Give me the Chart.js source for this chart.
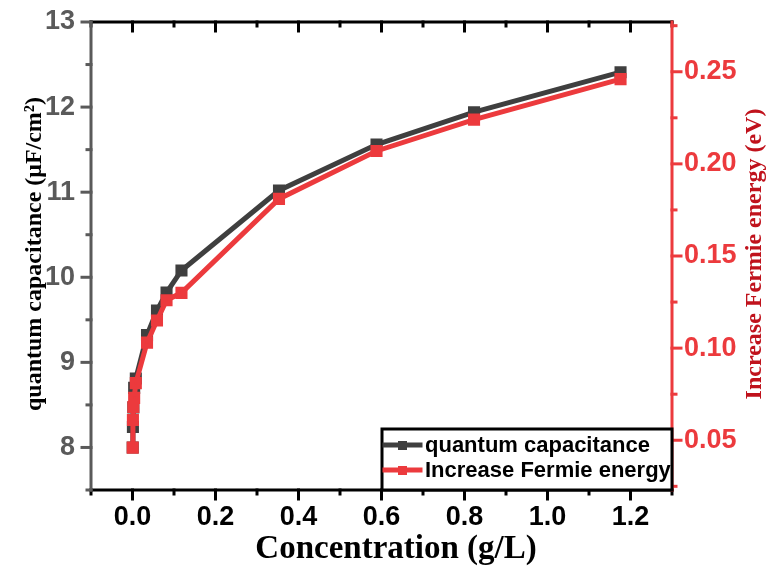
<!DOCTYPE html>
<html>
<head>
<meta charset="utf-8">
<title>Quantum capacitance vs concentration</title>
<script src="https://cdn.jsdelivr.net/npm/chart.js@4.4.0/dist/chart.umd.min.js"></script>
<style>
  html, body { margin: 0; padding: 0; background: #fff; }
  #wrap { width: 768px; height: 574px; }
</style>
</head>
<body>
<div id="wrap"><canvas id="chart" width="768" height="574"></canvas></div>
<script>
// Values
const concentration = [0.0005, 0.001, 0.002, 0.004, 0.008, 0.035, 0.059, 0.082, 0.118, 0.353, 0.588, 0.823, 1.176];
const quantumCapacitance = [8.0, 8.24, 8.47, 8.7, 8.81, 9.32, 9.61, 9.82, 10.08, 11.02, 11.56, 11.94, 12.41];
const fermiShift = [0.046, 0.061, 0.068, 0.073, 0.081, 0.103, 0.115, 0.126, 0.130, 0.181, 0.207, 0.224, 0.246];

// Tick labels
const xTicks = [0, 0.2, 0.4, 0.6, 0.8, 1.0, 1.2];
const leftTicks = [8, 9, 10, 11, 12, 13];
const rightTicks = [0.05, 0.10, 0.15, 0.20, 0.25];

const GREY = '#3f3f3f';
const RED = '#ec3a3d';
const AXIS_GREY = '#5a5a5a';
const TICK_FONT = { family: 'Liberation Sans', weight: 'bold', size: 27 };

function toPoints(ys) {
    return concentration.map((x, i) => ({ x: x, y: ys[i] }));
}

// minor ticks sit halfway between the labelled ones
function minorValues(majors, min, max) {
    const step = majors[1] - majors[0];
    const out = [];
    for (let v = majors[0] - step / 2; v <= max + 1e-9; v += step) {
        if (v >= min - 1e-9) out.push(v);
    }
    return out;
}

// fixed scale box sizes so the plot area lands where the reference has it
function fixBox(size) {
    return s => {
        if (s.isHorizontal()) s.height = size; else s.width = size;
        s.paddingTop = 0; s.paddingBottom = 0;
        s.paddingLeft = 0; s.paddingRight = 0;
    };
}

// Axis lines, tick marks, titles and the boxed legend
const framePlugin = {
    id: 'frame',
    afterDraw(chart) {
        const { ctx, chartArea: a, scales } = chart;
        const xs = scales.x, yl = scales.y, yr = scales.y1;
        ctx.save();
        ctx.lineCap = 'square';

        function seg(x1, y1, x2, y2, color, w) {
            ctx.strokeStyle = color;
            ctx.lineWidth = w;
            ctx.beginPath();
            ctx.moveTo(x1, y1);
            ctx.lineTo(x2, y2);
            ctx.stroke();
        }

        // top and bottom (x) axes
        seg(a.left, a.top, a.right, a.top, '#000', 3);
        seg(a.left, a.bottom, a.right, a.bottom, '#000', 3);
        xTicks.forEach(v => {
            const px = xs.getPixelForValue(v);
            seg(px, a.bottom, px, a.bottom + 9, '#000', 3);
            seg(px, a.top, px, a.top + 9, '#000', 3);
        });
        minorValues(xTicks, xs.min, xs.max).forEach(v => {
            const px = xs.getPixelForValue(v);
            seg(px, a.bottom, px, a.bottom + 4, '#000', 3);
            seg(px, a.top, px, a.top + 4, '#000', 3);
        });

        // left axis
        seg(a.left, a.top, a.left, a.bottom, AXIS_GREY, 3);
        leftTicks.forEach(v => {
            const py = yl.getPixelForValue(v);
            seg(a.left - 9, py, a.left, py, AXIS_GREY, 3);
        });
        minorValues(leftTicks, yl.min, yl.max).forEach(v => {
            const py = yl.getPixelForValue(v);
            seg(a.left - 4, py, a.left, py, AXIS_GREY, 3);
        });

        // right axis
        seg(a.right, a.top, a.right, a.bottom, RED, 3);
        rightTicks.forEach(v => {
            const py = yr.getPixelForValue(v);
            seg(a.right, py, a.right + 9, py, RED, 3);
        });
        minorValues(rightTicks, yr.min, yr.max).forEach(v => {
            const py = yr.getPixelForValue(v);
            seg(a.right, py, a.right + 4, py, RED, 3);
        });

        // axis titles
        ctx.textAlign = 'center';
        ctx.textBaseline = 'middle';
        ctx.fillStyle = '#000';
        ctx.font = 'bold 33px "Liberation Serif"';
        ctx.fillText('Concentration (g/L)', 396, 549);

        const midY = (a.top + a.bottom) / 2;
        ctx.save();
        ctx.translate(35, midY - 2);
        ctx.rotate(-Math.PI / 2);
        ctx.font = 'bold 24px "Liberation Serif"';
        ctx.fillText('quantum capacitance (\u03bcF/cm\u00b2)', 0, 0);
        ctx.restore();

        ctx.save();
        ctx.translate(755, midY - 2);
        ctx.rotate(-Math.PI / 2);
        ctx.font = 'bold 24px "Liberation Serif"';
        ctx.fillStyle = '#c0121c';
        ctx.fillText('Increase Fermie energy (eV)', 0, 0);
        ctx.restore();

        // legend box in the lower right corner
        const bx = 382, by = 429, bw = a.right - bx, bh = a.bottom - by;
        ctx.fillStyle = '#fff';
        ctx.fillRect(bx, by, bw, bh);
        ctx.strokeStyle = '#000';
        ctx.lineWidth = 3;
        ctx.strokeRect(bx, by, bw, bh);
        ctx.textAlign = 'left';
        ctx.font = 'bold 22px "Liberation Sans"';
        chart.data.datasets.forEach((ds, i) => {
            const ly = by + 16 + i * 25;
            seg(bx + 3, ly, bx + 38, ly, ds.borderColor, 5);
            ctx.fillStyle = ds.borderColor;
            ctx.fillRect(bx + 16, ly - 4, 9, 9);
            ctx.fillStyle = '#000';
            ctx.fillText(ds.label, bx + 43, ly + 1);
        });

        ctx.restore();
    }
};

const whiteBg = {
    id: 'whiteBg',
    beforeDraw(chart) {
        const ctx = chart.ctx;
        ctx.save();
        ctx.fillStyle = '#fff';
        ctx.fillRect(0, 0, chart.width, chart.height);
        ctx.restore();
    }
};

const ctx = document.getElementById('chart').getContext('2d');
new Chart(ctx, {
    type: 'line',
    data: {
        datasets: [{
            label: 'quantum capacitance',
            data: toPoints(quantumCapacitance),
            yAxisID: 'y',
            borderColor: GREY,
            backgroundColor: GREY,
            borderWidth: 5,
            pointStyle: 'rect',
            pointRadius: 5,
            pointHoverRadius: 5,
            order: 1
        }, {
            label: 'Increase Fermie energy',
            data: toPoints(fermiShift),
            yAxisID: 'y1',
            borderColor: RED,
            backgroundColor: RED,
            borderWidth: 5,
            pointStyle: 'rect',
            pointRadius: 5,
            pointHoverRadius: 5,
            order: 0
        }]
    },
    options: {
        responsive: false,
        animation: false,
        layout: { padding: { top: 22, left: 0, right: 0, bottom: 0 } },
        plugins: {
            legend: { display: false },
            tooltip: { enabled: false }
        },
        scales: {
            x: {
                type: 'linear',
                min: -0.1,
                max: 1.3,
                afterBuildTicks: s => { s.ticks = xTicks.map(v => ({ value: v })); },
                afterFit: fixBox(84),
                grid: { display: false, drawTicks: false },
                border: { display: false },
                ticks: {
                    color: '#000',
                    padding: 11,
                    maxRotation: 0,
                    font: TICK_FONT,
                    callback: v => v.toFixed(1)
                }
            },
            y: {
                type: 'linear',
                position: 'left',
                min: 7.5,
                max: 13,
                afterBuildTicks: s => { s.ticks = leftTicks.map(v => ({ value: v })); },
                afterFit: fixBox(91),
                grid: { display: false, drawTicks: false },
                border: { display: false },
                ticks: {
                    color: '#5a5a5a',
                    padding: 16,
                    font: TICK_FONT,
                    callback: v => String(v)
                }
            },
            y1: {
                type: 'linear',
                position: 'right',
                min: 0.023,
                max: 0.277,
                afterBuildTicks: s => { s.ticks = rightTicks.map(v => ({ value: v })); },
                afterFit: fixBox(96),
                grid: { display: false, drawTicks: false },
                border: { display: false },
                ticks: {
                    color: RED,
                    padding: 12,
                    font: TICK_FONT,
                    callback: v => v.toFixed(2)
                }
            }
        }
    },
    plugins: [whiteBg, framePlugin]
});
</script>
</body>
</html>
